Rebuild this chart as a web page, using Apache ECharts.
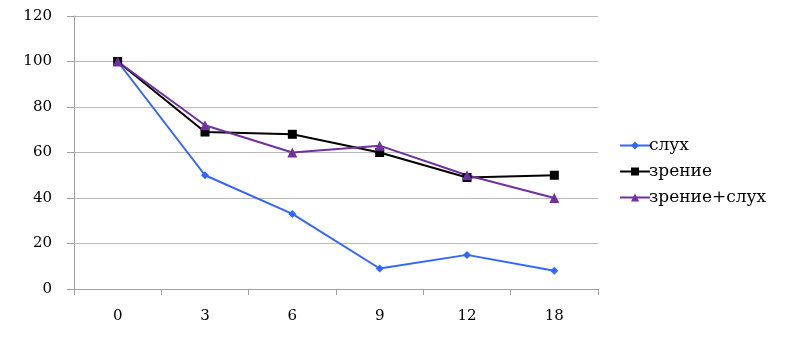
<!DOCTYPE html>
<html>
<head>
<meta charset="utf-8">
<script src="https://cdn.jsdelivr.net/npm/echarts@6/dist/echarts.min.js"></script>
<style>
  html, body { margin: 0; padding: 0; background: #fff; }
  #chart { width: 798px; height: 337px; }
</style>
</head>
<body>
<div id="chart"></div>
<script>
// Time points (x axis categories)
const categories = ['0', '3', '6', '9', '12', '18'];

// Series values
const hearing = [100, 50, 33, 9, 15, 8];
const vision = [100, 69, 68, 60, 49, 50];
const visionHearing = [100, 72, 60, 63, 50, 40];

const seriesNames = ['слух', 'зрение', 'зрение+слух'];

const FONT = '"DejaVu Serif", "Liberation Serif", serif';

const chart = echarts.init(document.getElementById('chart'));
chart.setOption({
  animation: false,
  backgroundColor: '#fff',
  grid: { left: 74, right: 200, top: 16, bottom: 48 },
  legend: {
    orient: 'vertical',
    left: 614,
    top: 132,
    itemWidth: 30,
    itemHeight: 10,
    itemGap: 9,
    textStyle: { fontFamily: FONT, fontSize: 17, color: '#000', padding: [0, 0, 0, -6] },
    data: seriesNames
  },
  xAxis: {
    type: 'category',
    data: categories,
    boundaryGap: true,
    axisLine: { lineStyle: { color: '#a0a0a0', width: 1 } },
    axisTick: { show: true, length: 6, lineStyle: { color: '#a0a0a0' } },
    axisLabel: { fontFamily: FONT, fontSize: 15, color: '#000', margin: 20 },
    splitLine: { show: false }
  },
  yAxis: {
    type: 'value',
    min: 0,
    max: 120,
    interval: 20,
    axisLine: { show: true, lineStyle: { color: '#a0a0a0', width: 1 } },
    axisTick: { show: true, length: 7, lineStyle: { color: '#a0a0a0' } },
    axisLabel: { fontFamily: FONT, fontSize: 15, color: '#000', margin: 22 },
    splitLine: { show: true, lineStyle: { color: '#b8b8b8', width: 1 } }
  },
  series: [
    {
      name: seriesNames[0],
      type: 'line',
      data: hearing,
      symbol: 'diamond',
      symbolSize: 8,
      itemStyle: { color: '#3366ff' },
      lineStyle: { color: '#3366ff', width: 2 }
    },
    {
      name: seriesNames[1],
      type: 'line',
      data: vision,
      symbol: 'rect',
      symbolSize: 9,
      itemStyle: { color: '#000000' },
      lineStyle: { color: '#000000', width: 2 }
    },
    {
      name: seriesNames[2],
      type: 'line',
      data: visionHearing,
      symbol: 'triangle',
      symbolSize: 10,
      itemStyle: { color: '#7030a0' },
      lineStyle: { color: '#7030a0', width: 2 }
    }
  ]
});
</script>
</body>
</html>
